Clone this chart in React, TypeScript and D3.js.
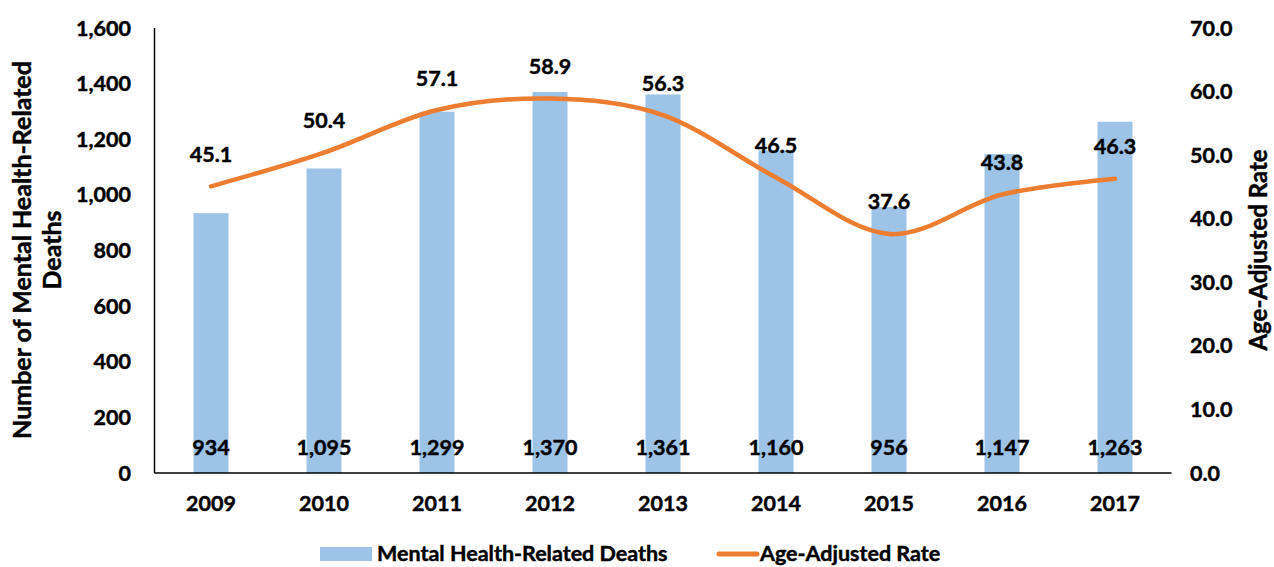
import { useRef, useEffect } from 'react';
import * as d3 from 'd3';

const years = ['2009', '2010', '2011', '2012', '2013', '2014', '2015', '2016', '2017'];
const deaths = [934, 1095, 1299, 1370, 1361, 1160, 956, 1147, 1263];
const rates = [45.1, 50.4, 57.1, 58.9, 56.3, 46.5, 37.6, 43.8, 46.3];
const leftTicks = [0, 200, 400, 600, 800, 1000, 1200, 1400, 1600];
const rightTicks = [0, 10, 20, 30, 40, 50, 60, 70];

const WIDTH = 1274;
const HEIGHT = 567;
const FONT = 'Lato, "Open Sans", sans-serif';
const BAR = '#9DC3E6';
const LINE = '#ED7D31';

export default function App() {
  const svgRef = useRef<SVGSVGElement>(null);

  useEffect(() => {
    if (!svgRef.current) return;
    const svg = d3.select(svgRef.current);
    svg.selectAll('*').remove();

    const left = 154.5;
    const right = 1171.5;
    const top = 28;
    const bottom = 473;

    const x = d3.scaleBand<string>().domain(years).range([left, right]);
    const yL = d3.scaleLinear().domain([0, 1600]).range([bottom, top]);
    const yR = d3.scaleLinear().domain([0, 70]).range([bottom, top]);
    const barW = 35;
    const cx = (i: number) => x(years[i])! + x.bandwidth() / 2;

    // Bars
    svg.append('g')
      .selectAll('rect')
      .data(deaths)
      .join('rect')
      .attr('x', (_, i) => cx(i) - barW / 2)
      .attr('y', (d) => yL(d))
      .attr('width', barW)
      .attr('height', (d) => bottom - yL(d))
      .attr('fill', BAR);

    // Axis lines
    svg.append('line')
      .attr('x1', left).attr('x2', left).attr('y1', top).attr('y2', bottom)
      .attr('stroke', '#000').attr('stroke-width', 1.5);
    svg.append('line')
      .attr('x1', left).attr('x2', right).attr('y1', bottom).attr('y2', bottom)
      .attr('stroke', '#000').attr('stroke-width', 1.5);

    // Line
    const line = d3.line<number>()
      .x((_, i) => cx(i))
      .y((d) => yR(d))
      .curve(d3.curveCardinal.tension(0));
    svg.append('path')
      .datum(rates)
      .attr('fill', 'none')
      .attr('stroke', LINE)
      .attr('stroke-width', 4.5)
      .attr('stroke-linecap', 'round')
      .attr('d', line);

    // all text, slightly stroked to approach Calibri bold weight
    const g = svg.append('g')
      .attr('font-family', FONT)
      .attr('font-weight', 700)
      .attr('fill', '#000')
      .attr('stroke', '#000')
      .attr('stroke-width', 0.45);

    g.selectAll('.lt')
      .data(leftTicks)
      .join('text')
      .attr('x', 131)
      .attr('y', (d) => yL(d))
      .attr('dy', '0.35em')
      .attr('text-anchor', 'end')
      .attr('font-size', 21.5)
      .text((d) => d3.format(',')(d));

    g.selectAll('.rt')
      .data(rightTicks)
      .join('text')
      .attr('x', 1190)
      .attr('y', (d) => yR(d))
      .attr('dy', '0.35em')
      .attr('font-size', 21.5)
      .text((d) => d3.format('.1f')(d));

    g.selectAll('.yr')
      .data(years)
      .join('text')
      .attr('x', (d) => x(d)! + x.bandwidth() / 2)
      .attr('y', 503)
      .attr('dy', '0.35em')
      .attr('text-anchor', 'middle')
      .attr('font-size', 21.5)
      .text((d) => d);

    g.selectAll('.bl')
      .data(deaths)
      .join('text')
      .attr('x', (_, i) => cx(i))
      .attr('y', 447)
      .attr('dy', '0.35em')
      .attr('text-anchor', 'middle')
      .attr('font-size', 21.5)
      .text((d) => d3.format(',')(d));

    g.selectAll('.rl')
      .data(rates)
      .join('text')
      .attr('x', (_, i) => cx(i))
      .attr('y', (d) => yR(d) - 32)
      .attr('dy', '0.35em')
      .attr('text-anchor', 'middle')
      .attr('font-size', 21.5)
      .text((d) => d3.format('.1f')(d));

    // Axis titles
    const lt = g.append('text')
      .attr('transform', `translate(22,250) rotate(-90)`)
      .attr('text-anchor', 'middle')
      .attr('font-size', 25);
    lt.append('tspan').attr('x', 0).attr('dy', '0.35em').text('Number of Mental Health-Related');
    lt.append('tspan').attr('x', 0).attr('dy', 30).text('Deaths');

    g.append('text')
      .attr('transform', `translate(1259,250) rotate(-90)`)
      .attr('text-anchor', 'middle')
      .attr('dy', '0.35em')
      .attr('font-size', 24)
      .text('Age-Adjusted Rate');

    // Legend
    svg.append('rect').attr('x', 320).attr('y', 547).attr('width', 52).attr('height', 14).attr('fill', BAR);
    svg.append('line').attr('x1', 719).attr('x2', 757).attr('y1', 554).attr('y2', 554)
      .attr('stroke', LINE).attr('stroke-width', 5).attr('stroke-linecap', 'round');
    g.append('text').attr('x', 377).attr('y', 553).attr('dy', '0.35em').attr('font-size', 21.5)
      .text('Mental Health-Related Deaths');
    g.append('text').attr('x', 760).attr('y', 553).attr('dy', '0.35em').attr('font-size', 21.5)
      .text('Age-Adjusted Rate');
  }, []);

  return (
    <svg
      ref={svgRef}
      width={WIDTH}
      height={HEIGHT}
      style={{ position: 'absolute', left: 0, top: 0, background: '#fff' }}
    />
  );
}
